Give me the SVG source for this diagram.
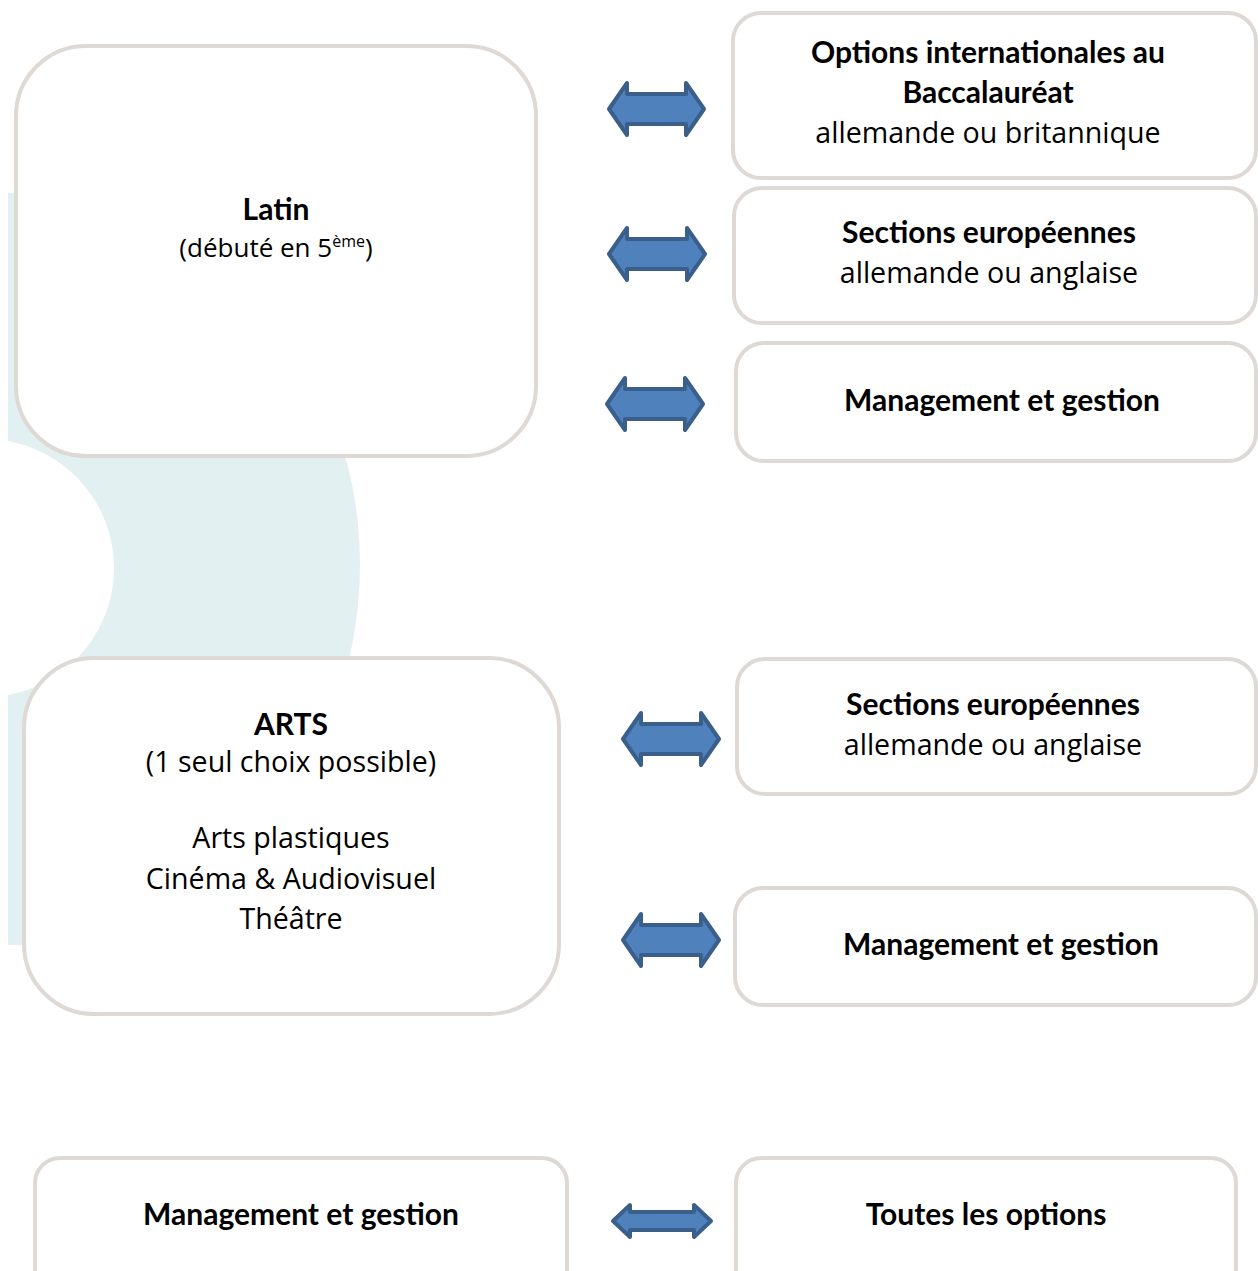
<svg xmlns="http://www.w3.org/2000/svg" width="1258" height="1271" viewBox="0 0 1258 1271">
<style>
.box{fill:#fff;stroke:#DED9D4;stroke-width:4}
.arr{fill:#4F81BD;stroke:#3A5F8B;stroke-width:4;stroke-linejoin:round}
.b{font-family:Lato,"Open Sans",sans-serif;font-weight:bold;font-size:30px;fill:#000;text-anchor:middle}
.r{font-family:"Open Sans","Noto Sans",sans-serif;font-size:28.6px;fill:#000;text-anchor:middle}
.rs{font-size:26px}
</style>
<defs>
<clipPath id="bgclip"><rect x="8" y="193" width="420" height="752"/></clipPath>
</defs>
<rect width="1258" height="1271" fill="#fff"/>
<g id="background" clip-path="url(#bgclip)">
<circle cx="-50" cy="565" r="410" fill="#E2F0F1"/>
<circle cx="-15" cy="568" r="129" fill="#fff"/>
</g>
<g id="latin">
<rect class="box" x="16" y="46" width="520" height="410" rx="70"/>
<text class="b" x="276" y="220">Latin</text>
<text class="r rs" x="276" y="257">(débuté en 5<tspan font-size="16" dy="-10">ème</tspan><tspan dy="10">)</tspan></text>
</g>
<g id="options-internationales">
<rect class="box" x="733" y="13" width="523" height="165" rx="28"/>
<text class="b" x="988" y="63">Options internationales au</text>
<text class="b" x="988" y="103">Baccalauréat</text>
<text class="r" x="988" y="143">allemande ou britannique</text>
</g>
<g id="sections-europeennes-1">
<rect class="box" x="734" y="188" width="522" height="135" rx="28"/>
<text class="b" x="989" y="243">Sections européennes</text>
<text class="r" x="989" y="283">allemande ou anglaise</text>
</g>
<g id="management-1">
<rect class="box" x="736" y="343" width="520" height="118" rx="28"/>
<text class="b" x="1002" y="411">Management et gestion</text>
</g>
<g id="arts">
<rect class="box" x="24" y="658" width="535" height="356" rx="70"/>
<text class="b" x="291" y="735">ARTS</text>
<text class="r" x="291" y="772">(1 seul choix possible)</text>
<text class="r" x="291" y="848">Arts plastiques</text>
<text class="r" x="291" y="889">Cinéma &amp; Audiovisuel</text>
<text class="r" x="291" y="929">Théâtre</text>
</g>
<g id="sections-europeennes-2">
<rect class="box" x="737" y="659" width="519" height="135" rx="28"/>
<text class="b" x="993" y="715">Sections européennes</text>
<text class="r" x="993" y="755">allemande ou anglaise</text>
</g>
<g id="management-2">
<rect class="box" x="735" y="888" width="521" height="117" rx="28"/>
<text class="b" x="1001" y="955">Management et gestion</text>
</g>
<g id="management-3">
<rect class="box" x="35" y="1158" width="532" height="140" rx="25"/>
<text class="b" x="301" y="1225">Management et gestion</text>
</g>
<g id="toutes-options">
<rect class="box" x="736" y="1158" width="500" height="140" rx="25"/>
<text class="b" x="986" y="1225">Toutes les options</text>
</g>
<g id="connectors">
<path class="arr" d="M609,109 L627,83 L627,94 L686,94 L686,83 L704,109 L686,135 L686,124 L627,124 L627,135 Z"/>
<path class="arr" d="M609,254 L627,228 L627,239 L687,239 L687,228 L705,254 L687,280 L687,269 L627,269 L627,280 Z"/>
<path class="arr" d="M607,404 L625,378 L625,389 L685,389 L685,378 L703,404 L685,430 L685,419 L625,419 L625,430 Z"/>
<path class="arr" d="M623,739 L641,713 L641,724 L701,724 L701,713 L719,739 L701,765 L701,754 L641,754 L641,765 Z"/>
<path class="arr" d="M623,940 L641,914 L641,925 L701,925 L701,914 L719,940 L701,966 L701,955 L641,955 L641,966 Z"/>
<path class="arr" d="M613,1221 L630,1205 L630,1212 L694,1212 L694,1205 L711,1221 L694,1237 L694,1230 L630,1230 L630,1237 Z"/>
</g>
</svg>
